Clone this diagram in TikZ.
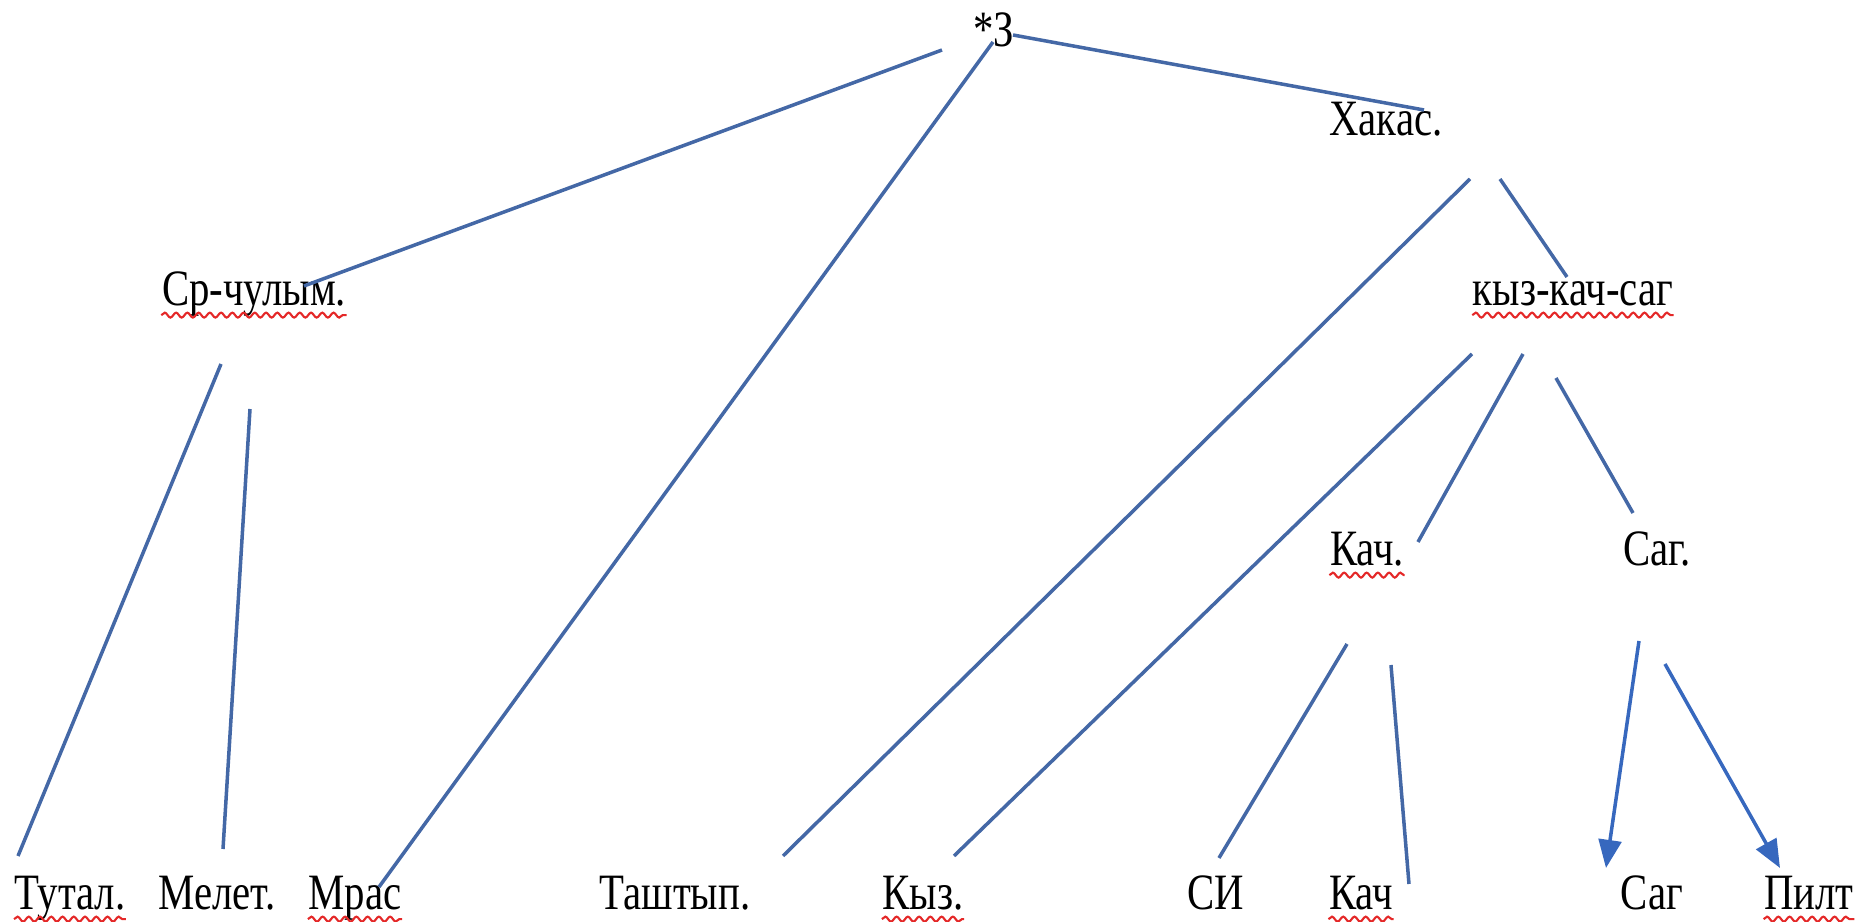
\documentclass[tikz,border=0pt]{standalone}
\usepackage{fontspec}
\setmainfont{Liberation Serif}[FakeStretch=0.8]
\usepackage{tikz}
\usetikzlibrary{positioning,arrows.meta,decorations.pathmorphing}

\definecolor{linkblue}{RGB}{68,104,166}
\definecolor{tipblue}{RGB}{55,104,190}
\definecolor{spellred}{RGB}{228,40,40}

\begin{document}
\begin{tikzpicture}[on grid,
        lbl/.style={inner sep=0pt, text height=10pt, text depth=3pt,
                    font=\fontsize{14.5pt}{17pt}\selectfont},
        link/.style={linkblue, line width=1pt},
        tip/.style={tipblue, line width=1pt, -{Triangle[length=8pt, width=6.5pt]}},
        spell/.style={spellred, line width=0.6pt,
                      decorate, decoration={snake, amplitude=0.7pt, segment length=3.2pt}}]
    \useasboundingbox (0,0) rectangle (18.69,-9.22);

    % upper levels
    \node[lbl] (z) at (9.94,-0.34) {*З};
    \node[lbl] (hakas) [below right=0.89cm and 3.92cm of z] {Хакас.};
    \node[lbl] (srchul) [below left=2.59cm and 7.40cm of z] {Ср-чулым.};
    \node[lbl] (kks) [below right=1.70cm and 1.87cm of hakas] {кыз-кач-саг};
    \node[lbl] (kach1) [below left=2.60cm and 2.06cm of kks] {Кач.};
    \node[lbl] (sag1) [right=2.90cm of kach1] {Саг.};

    % bottom row
    \node[lbl] (tutal) [below left=6.04cm and 1.84cm of srchul] {Тутал.};
    \node[lbl] (melet) [right=1.47cm of tutal] {Мелет.};
    \node[lbl] (mras) [right=1.38cm of melet] {Мрас};
    \node[lbl] (tashtyp) [right=3.20cm of mras] {Таштып.};
    \node[lbl] (kyz) [right=2.48cm of tashtyp] {Кыз.};
    \node[lbl] (si) [right=2.93cm of kyz] {СИ};
    \node[lbl] (kach2) [right=1.45cm of si] {Кач};
    \node[lbl] (sag2) [right=2.91cm of kach2] {Саг};
    \node[lbl] (pilt) [right=1.57cm of sag2] {Пилт};

    \path[link]
        ([shift={(-0.52,-0.16)}]z.center) edge ([shift={(0.50,0.07)}]srchul.center)
        ([shift={(-0.01,-0.08)}]z.center) edge ([shift={(0.24,0.10)}]mras.center)
        ([shift={(0.19,-0.01)}]z.center) edge ([shift={(0.38,0.13)}]hakas.center)
        ([shift={(0.84,-0.56)}]hakas.center) edge ([shift={(1.08,0.41)}]tashtyp.center)
        ([shift={(1.14,-0.56)}]hakas.center) edge ([shift={(-0.06,0.16)}]kks.center)
        ([shift={(-1.01,-0.61)}]kks.center) edge ([shift={(0.31,0.41)}]kyz.center)
        ([shift={(-0.50,-0.61)}]kks.center) edge ([shift={(0.51,0.11)}]kach1.center)
        ([shift={(-0.17,-0.85)}]kks.center) edge ([shift={(-0.24,0.40)}]sag1.center)
        ([shift={(-0.33,-0.71)}]srchul.center) edge ([shift={(-0.52,0.41)}]tutal.center)
        ([shift={(-0.04,-1.16)}]srchul.center) edge ([shift={(0.06,0.48)}]melet.center)
        ([shift={(-0.20,-0.91)}]kach1.center) edge ([shift={(0.03,0.39)}]si.center)
        ([shift={(0.24,-1.12)}]kach1.center) edge ([shift={(0.48,0.13)}]kach2.center);
    \path[tip]
        ([shift={(-0.18,-0.88)}]sag1.center) edge ([shift={(-0.46,0.29)}]sag2.center)
        ([shift={(0.08,-1.11)}]sag1.center) edge ([shift={(-0.29,0.29)}]pilt.center);

    % spell-check underlines
    \foreach \n in {srchul,kks,kach1,tutal,mras,kyz,kach2,pilt}
        \draw[spell] ([yshift=-2.8pt]\n.base west) -- ([yshift=-2.8pt]\n.base east);
\end{tikzpicture}
\end{document}
